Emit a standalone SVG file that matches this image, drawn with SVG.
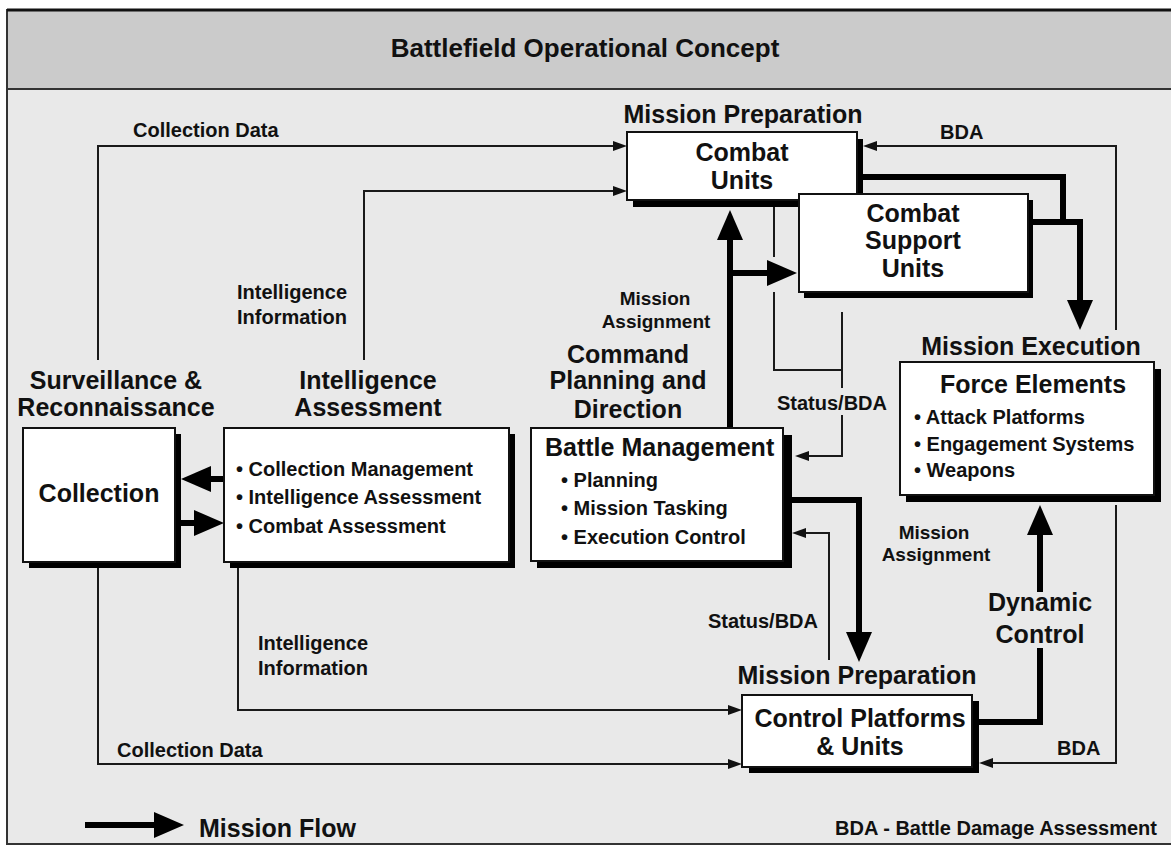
<svg xmlns="http://www.w3.org/2000/svg" width="1171" height="846" viewBox="0 0 1171 846">
<defs>
<style>
text{font-family:"Liberation Sans",Arial,Helvetica,sans-serif;font-weight:bold;fill:#111;}
.big{font-size:25px;}
.sm{font-size:20px;}
.mid{text-anchor:middle;}
.box{fill:#fff;stroke:#111;stroke-width:2;}
.shadow{fill:#000;}
.thin{fill:none;stroke:#1a1a1a;stroke-width:2;}
.thick{fill:none;stroke:#000;stroke-width:6;stroke-linejoin:miter;}
</style>
<marker id="ah" markerUnits="userSpaceOnUse" markerWidth="14" markerHeight="10" refX="0" refY="5" orient="auto">
<path d="M0,0 L14,5 L0,10 z" fill="#111"/>
</marker>
<marker id="AH" markerUnits="userSpaceOnUse" markerWidth="30" markerHeight="26" refX="0" refY="13" orient="auto">
<path d="M0,0 L30,13 L0,26 z" fill="#000"/>
</marker>
</defs>

<g id="frame">
<rect x="7" y="10" width="1175" height="834" fill="#e9e9e9" stroke="#333" stroke-width="2"/>
<rect x="7" y="10" width="1175" height="79" fill="#cbcbcb" stroke="#333" stroke-width="2"/>
<line x1="7" y1="10" x2="1171" y2="10" stroke="#111" stroke-width="3"/>
<text x="585" y="57" class="mid" style="font-size:26px">Battlefield Operational Concept</text>
</g>

<g id="connectors">
<path class="thin" d="M98,360 V146 H613" marker-end="url(#ah)"/>
<path class="thin" d="M364,360 V191 H613" marker-end="url(#ah)"/>
<path class="thin" d="M1116,330 V146 H877" marker-end="url(#ah)"/>
<path class="thin" d="M1116,505 V763 H993" marker-end="url(#ah)"/>
<path class="thin" d="M774,207 V257"/>
<path class="thin" d="M774,292 V370 H842"/>
<path class="thin" d="M842,312 V388"/>
<path class="thin" d="M842,415 V456 H809" marker-end="url(#ah)"/>
<path class="thin" d="M829,660 V533 H806" marker-end="url(#ah)"/>
<path class="thin" d="M98,568 V764 H728" marker-end="url(#ah)"/>
<path class="thin" d="M238,568 V710 H728" marker-end="url(#ah)"/>

<path class="thick" d="M730,428 V240" marker-end="url(#AH)"/>
<path class="thick" d="M730,273 H767" marker-end="url(#AH)"/>
<path class="thick" d="M863,177 H1063 V225"/>
<path class="thick" d="M1033,222 H1080 V300" marker-end="url(#AH)"/>
<path class="thick" d="M792,500 H859 V632" marker-end="url(#AH)"/>
<path class="thick" d="M979,722 H1040 V648"/>
<path class="thick" d="M1040,592 V535" marker-end="url(#AH)"/>
<path class="thick" d="M224,479 H211" marker-end="url(#AH)"/>
<path class="thick" d="M181,523 H194" marker-end="url(#AH)"/>

<text x="133" y="137" class="sm">Collection Data</text>
<text x="940" y="139" class="sm">BDA</text>
<text x="237" y="299" class="sm">Intelligence</text>
<text x="237" y="324" class="sm">Information</text>
<text x="655" y="305" class="sm mid" style="font-size:19px">Mission</text>
<text x="656" y="328" class="sm mid" style="font-size:19px">Assignment</text>
<text x="777" y="410" class="sm">Status/BDA</text>
<text x="934" y="539" class="sm mid" style="font-size:19px">Mission</text>
<text x="936" y="561" class="sm mid" style="font-size:19px">Assignment</text>
<text x="1040" y="611" class="big mid">Dynamic</text>
<text x="1040" y="643" class="big mid">Control</text>
<text x="708" y="628" class="sm">Status/BDA</text>
<text x="258" y="650" class="sm">Intelligence</text>
<text x="258" y="675" class="sm">Information</text>
<text x="117" y="757" class="sm">Collection Data</text>
<text x="1057" y="755" class="sm">BDA</text>
</g>

<g id="combat-units">
<text x="743" y="123" class="big mid">Mission Preparation</text>
<rect class="shadow" x="633" y="139" width="230" height="68"/>
<rect class="box" x="627" y="132" width="230" height="68"/>
<text x="742" y="161" class="big mid">Combat</text>
<text x="742" y="189" class="big mid">Units</text>
</g>

<g id="combat-support-units">
<rect class="shadow" x="804" y="200" width="229" height="98"/>
<rect class="box" x="799" y="194" width="229" height="98"/>
<text x="913" y="222" class="big mid">Combat</text>
<text x="913" y="249" class="big mid">Support</text>
<text x="913" y="277" class="big mid">Units</text>
</g>

<g id="collection">
<text x="116" y="389" class="big mid">Surveillance &amp;</text>
<text x="116" y="416" class="big mid">Reconnaissance</text>
<rect class="shadow" x="29" y="434" width="152" height="134"/>
<rect class="box" x="23" y="428" width="152" height="134"/>
<text x="99" y="502" class="big mid">Collection</text>
</g>

<g id="intelligence-assessment">
<text x="368" y="389" class="big mid">Intelligence</text>
<text x="368" y="416" class="big mid">Assessment</text>
<rect class="shadow" x="230" y="434" width="285" height="134"/>
<rect class="box" x="224" y="428" width="285" height="134"/>
<text x="236" y="476" class="sm">• Collection Management</text>
<text x="236" y="504" class="sm">• Intelligence Assessment</text>
<text x="236" y="533" class="sm">• Combat Assessment</text>
</g>

<g id="battle-management">
<text x="628" y="363" class="big mid">Command</text>
<text x="628" y="389" class="big mid">Planning and</text>
<text x="628" y="418" class="big mid">Direction</text>
<rect class="shadow" x="537" y="435" width="255" height="133"/>
<rect class="box" x="531" y="428" width="252" height="133"/>
<text x="545" y="456" class="big">Battle Management</text>
<text x="561" y="487" class="sm">• Planning</text>
<text x="561" y="515" class="sm">• Mission Tasking</text>
<text x="561" y="544" class="sm">• Execution Control</text>
</g>

<g id="force-elements">
<text x="1031" y="355" class="big mid">Mission Execution</text>
<rect class="shadow" x="906" y="369" width="255" height="133"/>
<rect class="box" x="900" y="362" width="254" height="133"/>
<text x="1033" y="393" class="big mid">Force Elements</text>
<text x="914" y="424" class="sm">• Attack Platforms</text>
<text x="914" y="451" class="sm">• Engagement Systems</text>
<text x="914" y="477" class="sm">• Weapons</text>
</g>

<g id="control-platforms">
<text x="857" y="684" class="big mid">Mission Preparation</text>
<rect class="shadow" x="749" y="701" width="230" height="72"/>
<rect class="box" x="742" y="695" width="230" height="72"/>
<text x="860" y="727" class="big mid">Control Platforms</text>
<text x="860" y="755" class="big mid">&amp; Units</text>
</g>

<g id="legend">
<path class="thick" d="M85,825 H154" marker-end="url(#AH)"/>
<text x="199" y="837" class="big">Mission Flow</text>
<text x="1157" y="835" class="sm" text-anchor="end">BDA - Battle Damage Assessment</text>
</g>
</svg>
